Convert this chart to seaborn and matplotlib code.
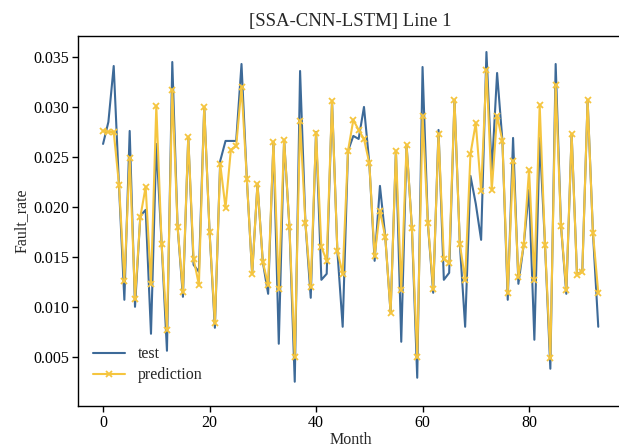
import pandas as pd
import matplotlib
matplotlib.use("Agg")
import matplotlib.pyplot as plt
import seaborn as sns

# values (in units of 0.001)
months = list(range(94))
test = [26.3, 28.5, 34.1, 22.0, 10.7, 27.6, 10.0, 19.1, 19.7, 7.3,
        26.3, 16.3, 5.6, 34.5, 18.0, 11.0, 27.0, 14.2, 13.5, 30.0,
        17.5, 7.9, 24.6, 26.6, 26.6, 26.6, 34.3, 22.8, 13.3, 22.3,
        14.5, 11.3, 26.5, 6.3, 26.7, 18.0, 2.5, 33.6, 18.4, 10.9,
        27.5, 12.7, 13.3, 30.6, 15.6, 8.0, 25.6, 27.1, 26.8, 30.0,
        24.4, 14.6, 22.1, 17.0, 9.4, 25.6, 6.5, 26.2, 17.9, 2.9,
        34.0, 18.3, 11.4, 27.7, 12.7, 13.4, 30.7, 16.3, 8.0, 23.1,
        20.3, 16.7, 35.5, 23.5, 33.4, 26.6, 10.7, 26.9, 12.3, 16.2,
        21.7, 6.7, 26.9, 16.2, 3.8, 34.3, 18.1, 11.3, 27.3, 13.3,
        13.5, 30.7, 17.4, 8.0]
prediction = [27.6, 27.5, 27.5, 22.2, 12.6, 24.9, 10.8, 19.0, 22.0, 12.3,
              30.1, 16.3, 7.7, 31.7, 18.0, 11.5, 27.0, 14.8, 12.2, 30.0,
              17.5, 8.4, 24.3, 19.9, 25.7, 26.1, 32.0, 22.8, 13.3, 22.3,
              14.5, 12.2, 26.5, 11.8, 26.7, 18.0, 5.0, 28.6, 18.4, 12.0,
              27.4, 16.0, 14.6, 30.6, 15.6, 13.3, 25.6, 28.7, 27.7, 26.8,
              24.4, 15.1, 19.6, 17.0, 9.4, 25.6, 11.7, 26.2, 17.9, 5.0,
              29.1, 18.4, 11.8, 27.3, 14.8, 14.4, 30.7, 16.3, 12.7, 25.3,
              28.4, 21.6, 33.7, 21.7, 29.1, 26.6, 11.4, 24.6, 13.0, 16.2,
              23.7, 12.7, 30.2, 16.2, 4.9, 32.2, 18.1, 11.7, 27.3, 13.2,
              13.5, 30.7, 17.4, 11.4]

df = pd.DataFrame({
    "Month": months,
    "test": [v / 1000 for v in test],
    "prediction": [v / 1000 for v in prediction],
})

sns.set_theme(style="ticks")
plt.rcParams["font.family"] = ["Liberation Serif", "DejaVu Serif"]
plt.rcParams["font.size"] = 11.5

fig = plt.figure(figsize=(6.19, 4.48), dpi=100)
ax = fig.add_axes([0.1265, 0.0944, 0.88, 0.8252])

sns.lineplot(data=df, x="Month", y="test", color="#3d6a98", linewidth=1.5,
             label="test", ax=ax)
sns.lineplot(data=df, x="Month", y="prediction", color="#f5c53f", linewidth=1.5,
             marker="x", markersize=4, markeredgewidth=1.3,
             markeredgecolor="#f5c53f", label="prediction", ax=ax)

ax.set_xlim(-4.65, 97.65)
ax.set_ylim(0.0001, 0.0371)
ax.set_xticks([0, 20, 40, 60, 80])
ax.set_yticks([0.005, 0.010, 0.015, 0.020, 0.025, 0.030, 0.035])
ax.set_yticklabels([f"{t:.3f}" for t in ax.get_yticks()])
ax.tick_params(labelsize=11.5, colors="black", width=1, length=4, pad=2.5)
for s in ax.spines.values():
    s.set_color("black")
    s.set_linewidth(1)

ax.set_title("[SSA-CNN-LSTM] Line 1", fontsize=13.5, pad=7)
ax.set_xlabel("Month", fontsize=11.5, labelpad=1)
ax.set_ylabel("Fault_rate", fontsize=11.5, labelpad=3)
ax.legend(loc="lower left", bbox_to_anchor=(0.0, 0.022), frameon=False,
          fontsize=11.5, labelspacing=0.3)

fig.savefig("out.png", dpi=100)
